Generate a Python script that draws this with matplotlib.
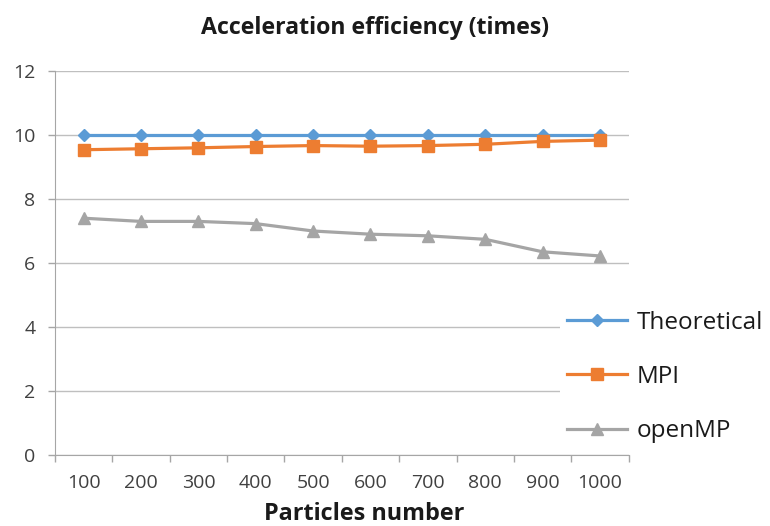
import matplotlib.pyplot as plt
import numpy as np

plt.rcParams['font.family'] = ['Open Sans', 'DejaVu Sans']

# data
particles = ['100', '200', '300', '400', '500', '600', '700', '800', '900', '1000']
theoretical = [10, 10, 10, 10, 10, 10, 10, 10, 10, 10]
mpi = [9.54, 9.57, 9.60, 9.64, 9.67, 9.65, 9.67, 9.71, 9.80, 9.84]
openmp = [7.40, 7.30, 7.30, 7.23, 7.00, 6.90, 6.85, 6.74, 6.35, 6.22]

fig = plt.figure(figsize=(7.7, 5.26), dpi=100)
ax = fig.add_axes([0.0714, 0.135, 0.745, 0.730])

x = np.arange(len(particles))
ax.plot(x, theoretical, color='#5B9BD5', lw=2.3, marker='D', ms=6.5, label='Theoretical', zorder=3)
ax.plot(x, mpi, color='#ED7D31', lw=2.3, marker='s', ms=8, label='MPI', zorder=3)
ax.plot(x, openmp, color='#A5A5A5', lw=2.3, marker='^', ms=9, label='openMP', zorder=3)

ax.set_xlim(-0.5, 9.5)
ax.set_ylim(0, 12)
ax.set_yticks(range(0, 13, 2))
ax.set_xticks(x)
ax.set_xticklabels(particles)
ax.set_xticks(np.arange(-0.5, 10, 1), minor=True)
ax.tick_params(axis='x', which='major', length=0, pad=14, labelsize=14, labelcolor='#404040')
ax.tick_params(axis='x', which='minor', length=5, color='#A6A6A6', width=1)
ax.tick_params(axis='y', length=5, color='#A6A6A6', width=1, pad=9, labelsize=14, labelcolor='#404040')

ax.grid(axis='y', color='#BFBFBF', lw=1, zorder=0)
for side in ['top', 'right']:
    ax.spines[side].set_visible(False)
for side in ['left', 'bottom']:
    ax.spines[side].set_color('#A6A6A6')

# title and axis label placed in figure coordinates
fig.text(375 / 770, 1 - 28 / 526, 'Acceleration efficiency (times)', fontsize=16.7,
         fontweight='bold', ha='center', va='center', color='#1a1a1a')
fig.text(364 / 770, 1 - 514 / 526, 'Particles number', fontsize=16.8,
         fontweight='bold', ha='center', va='center', color='#1a1a1a')

leg = ax.legend(loc='center left', bbox_to_anchor=(560 / 770, 1 - 377 / 526),
                bbox_transform=fig.transFigure, frameon=True, fancybox=False,
                framealpha=1, edgecolor='none', fontsize=17.5, handlelength=2.45,
                labelspacing=1.25, borderaxespad=0, borderpad=0.3, handletextpad=0.4)
for t in leg.get_texts():
    t.set_color('#1a1a1a')

fig.savefig('out.png', dpi=100)
